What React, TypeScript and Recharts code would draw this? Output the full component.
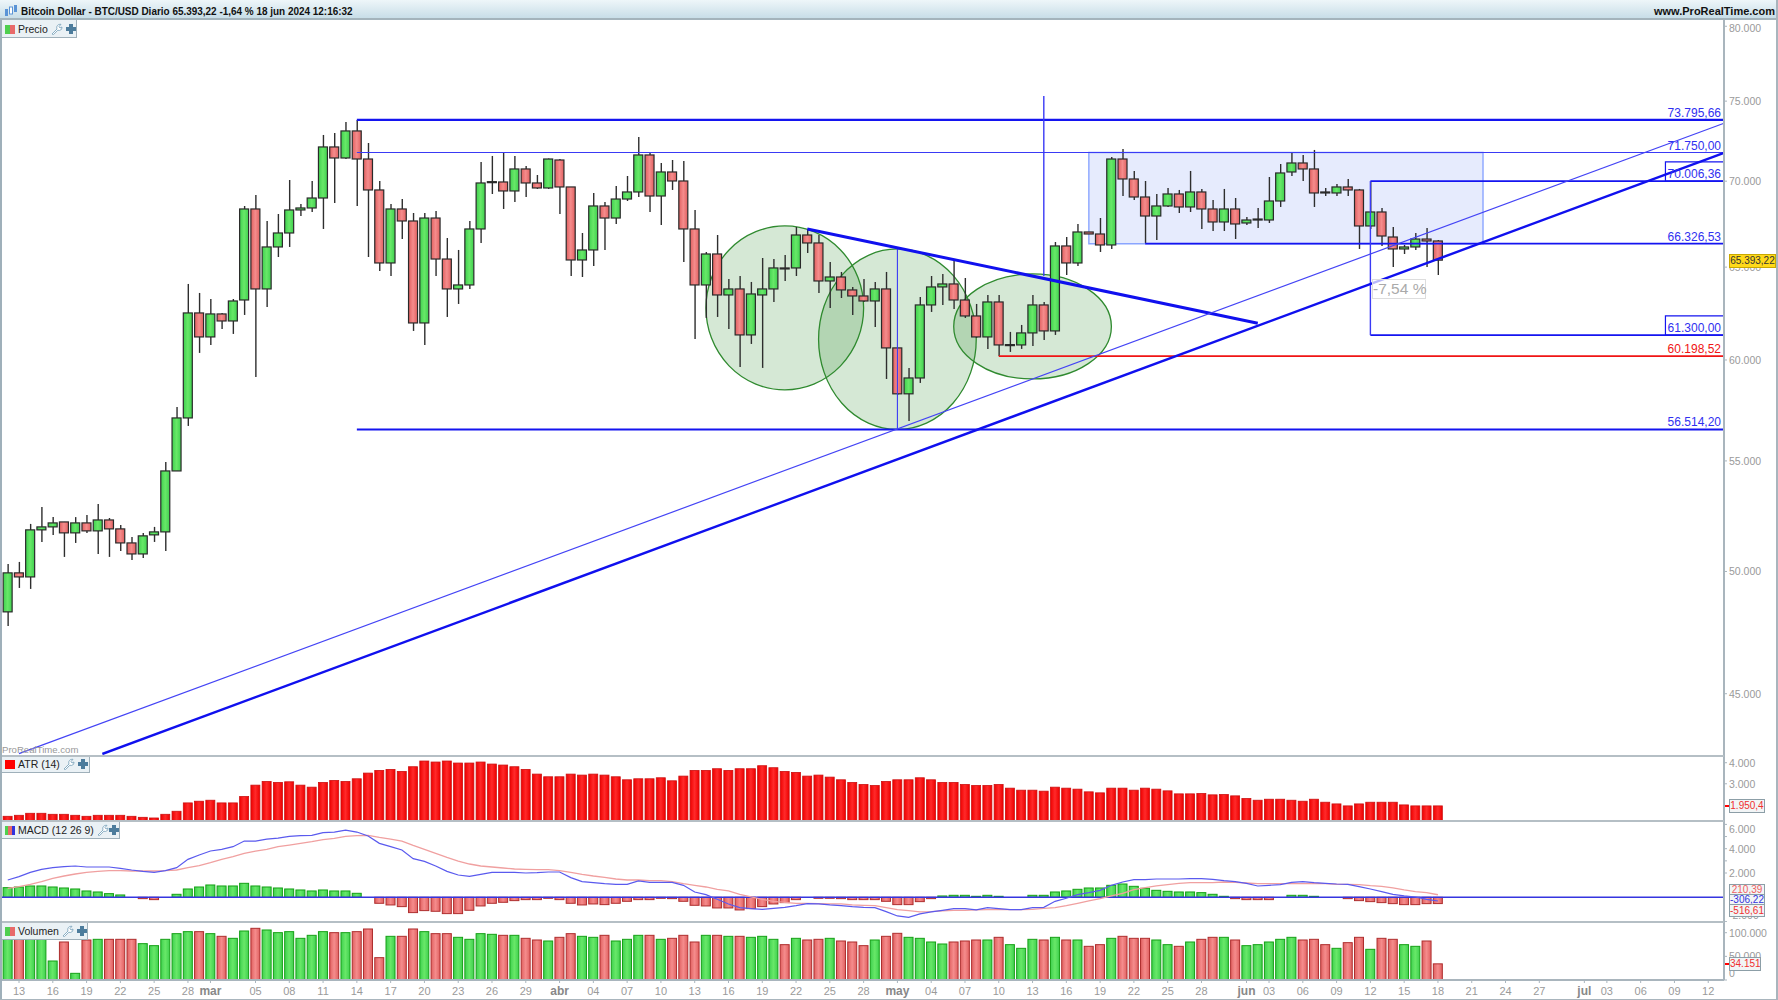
import React from "react";
import {
  ComposedChart,
  Bar,
  Line,
  XAxis,
  YAxis,
  ReferenceLine,
  ReferenceArea,
} from "recharts";

const FONT = '"Liberation Sans", Arial, sans-serif';

// BTC/USD daily candles, 12 Feb - 18 Jun 2024
const opens = [
  48289, 49940, 49766, 51826, 51959, 52182, 51692, 52138, 51781, 52271,
  51870, 51246, 50762, 51603, 51736, 54527, 57076, 62483, 61204, 62429,
  62052, 63185, 68342, 63789, 66140, 66942, 68283, 68401, 68991, 72095,
  71413, 73097, 71350, 69471, 65234, 68342, 67638, 61946, 67811, 65456,
  63789, 64009, 67174, 69951, 69951, 69411, 70740, 69891, 69591, 71289,
  69651, 65402, 65969, 68519, 67811, 68931, 69351, 71599, 69111, 70557,
  70011, 67174, 64009, 65741, 63459, 63789, 61310, 63459, 63789, 64954,
  64954, 66826, 66368, 64229, 64450, 63734, 63404, 63131, 63789, 60627,
  58275, 59077, 62915, 63899, 64064, 63185, 62321, 61204, 63077, 60783,
  60783, 61416, 62915, 61522, 66197, 65234, 67000, 66884, 66254, 71350,
  70132, 69051, 67929, 68519, 69231, 68460, 69351, 68342, 67580, 68342,
  67522, 67696, 67696, 68814, 70557, 71106, 70740, 69351, 69291, 69651,
  69471, 67348, 68165, 66710, 66026, 66140, 66594, 66482,
];
const closes = [
  49940, 49766, 51826, 51959, 52138, 51692, 52138, 51781, 52271, 51870,
  51246, 50762, 51559, 51736, 54527, 57076, 62483, 61204, 62429, 62052,
  63131, 68342, 63789, 66140, 66942, 68283, 68401, 68991, 72095, 71413,
  73097, 71350, 69471, 65234, 68342, 67638, 61946, 67811, 65456, 63789,
  64009, 67174, 69891, 69970, 69411, 70740, 69891, 69591, 71350, 69651,
  65402, 65969, 68519, 67811, 68931, 69351, 71599, 69111, 70557, 70011,
  67174, 64009, 65741, 63459, 63789, 61310, 63514, 63789, 64954, 64940,
  66826, 66368, 64229, 64450, 63734, 63404, 63131, 63789, 60627, 58275,
  59077, 62915, 63899, 64064, 63185, 62321, 61204, 63077, 60783, 60800,
  61416, 62915, 61522, 66197, 65234, 67000, 66884, 66254, 71350, 70132,
  69051, 67929, 68519, 69231, 68460, 69351, 68342, 67580, 68342, 67464,
  67696, 67752, 68814, 70496, 71106, 70740, 69291, 69291, 69651, 69471,
  67348, 68165, 66768, 66026, 66140, 66594, 66482, 65393,
];
const highs = [
  50328, 50414, 52093, 52858, 52400, 52182, 52400, 52490, 52996, 52360,
  52048, 51514, 51692, 51959, 54950, 57620, 64064, 63569, 63239, 62483,
  63239, 68519, 69171, 67638, 68047, 70071, 68637, 70011, 72844, 72970,
  73664, 73795, 72343, 70011, 68637, 68931, 68106, 68106, 68224, 66652,
  65969, 67638, 71167, 71537, 71723, 71537, 70923, 70374, 71380, 71350,
  69651, 66942, 69291, 68755, 69711, 70313, 72718, 71723, 71106, 71289,
  71228, 68283, 65855, 66826, 64338, 64506, 64174, 65513, 65456, 65684,
  67290, 67174, 66826, 65290, 64730, 63899, 64338, 64174, 64730, 60627,
  59592, 63349, 64506, 64618, 65346, 64394, 62969, 63459, 63459, 61470,
  61840, 63459, 63077, 66425, 66710, 67464, 67000, 67811, 71475, 71971,
  70618, 70011, 69231, 69591, 69471, 70618, 69531, 68873, 69531, 68991,
  67870, 68401, 70252, 71045, 71785, 71599, 71909, 69591, 69831, 70132,
  69531, 69951, 68401, 67290, 66254, 66942, 67232, 66539,
];
const lows = [
  47709, 49296, 49254, 51290, 51603, 50632, 51246, 51692, 50762, 50632,
  50894, 50500, 50588, 51290, 50894, 54527, 56684, 60367, 60783, 61628,
  61363, 62375, 59128, 62807, 65570, 66140, 67929, 68165, 67174, 68696,
  71350, 68519, 65570, 64786, 64506, 66594, 61522, 60783, 64506, 62267,
  62969, 63789, 66368, 69231, 68342, 68755, 69051, 69531, 69531, 68047,
  64506, 64450, 65066, 65969, 67464, 68814, 69051, 68165, 67406, 69471,
  65290, 61098, 62213, 62267, 61628, 59643, 60835, 59592, 63077, 64229,
  64506, 65798, 63569, 62753, 63294, 62375, 63077, 61734, 59026, 58225,
  56928, 58825, 62537, 62915, 62699, 62213, 61151, 60575, 60211, 60419,
  60575, 60731, 61043, 61310, 64562, 65066, 66884, 65855, 66026, 69111,
  68873, 66368, 66539, 68460, 68106, 68165, 67174, 67058, 67058, 66594,
  67406, 67232, 67522, 68460, 70313, 70011, 68460, 69111, 69111, 69111,
  66026, 67174, 66197, 65010, 65741, 65969, 65010, 64562,
];

const atr = [
  1456, 1504, 1599, 1599, 1551, 1551, 1504, 1456, 1504, 1504,
  1504, 1456, 1408, 1376, 1551, 1695, 2092, 2172, 2219, 2092,
  2092, 2394, 2935, 3110, 3062, 3094, 2935, 2839, 3062, 3157,
  3110, 3237, 3507, 3634, 3682, 3587, 3809, 4080, 4032, 4080,
  3984, 3984, 4032, 3936, 3889, 3809, 3682, 3459, 3332, 3332,
  3459, 3412, 3459, 3412, 3332, 3189, 3237, 3237, 3285, 3141,
  3364, 3634, 3634, 3714, 3634, 3714, 3714, 3857, 3762, 3587,
  3539, 3364, 3412, 3316, 3189, 3062, 2966, 2919, 3110, 3189,
  3189, 3285, 3189, 3062, 3062, 2966, 2919, 2919, 2966, 2792,
  2696, 2696, 2649, 2839, 2792, 2744, 2617, 2569, 2792, 2792,
  2696, 2792, 2744, 2664, 2521, 2521, 2537, 2474, 2490, 2426,
  2299, 2219, 2267, 2267, 2219, 2172, 2267, 2124, 2044, 1950,
  2044, 2124, 2124, 2124, 1997, 1950, 1950, 1950,
];

const macdLine = [
  1425, 1699, 2055, 2302, 2439, 2521, 2576, 2493, 2493, 2493,
  2384, 2247, 2137, 2055, 2192, 2439, 3124, 3480, 3809, 3946,
  4165, 4631, 4631, 4795, 4877, 5014, 5069, 5096, 5316, 5370,
  5535, 5370, 5042, 4439, 4165, 3891, 3178, 2959, 2576, 2137,
  1836, 1726, 1891, 2055, 2055, 2055, 2000, 2028, 2082, 2082,
  1617, 1288, 1206, 1123, 1069, 1069, 1343, 1233, 1233, 1233,
  986, 438, 219, -164, -548, -849, -932, -986, -904, -822,
  -685, -521, -548, -630, -685, -767, -822, -849, -1178, -1534,
  -1644, -1370, -1206, -1069, -932, -932, -1041, -849, -932, -1014,
  -1014, -849, -822, -329, -82, 219, 384, 575, 986, 1260,
  1452, 1452, 1507, 1507, 1507, 1534, 1534, 1480, 1370, 1288,
  1151, 932, 986, 1041, 1233, 1288, 1206, 1151, 1096, 1069,
  877, 685, 466, 247, 110, 27, -164, -306,
];
const macdSignal = [
  740, 877, 1069, 1288, 1562, 1754, 1918, 2055, 2137, 2192,
  2192, 2165, 2165, 2165, 2192, 2247, 2439, 2603, 2850, 3124,
  3343, 3617, 3809, 3946, 4165, 4302, 4439, 4576, 4740, 4850,
  5014, 5069, 5096, 4932, 4795, 4631, 4274, 3946, 3617, 3288,
  2987, 2740, 2576, 2493, 2411, 2329, 2302, 2274, 2274, 2192,
  2055, 1891, 1754, 1644, 1507, 1425, 1425, 1370, 1370, 1288,
  1123, 986, 849, 658, 521, 247, 27, -164, -329, -411,
  -493, -493, -521, -548, -548, -630, -658, -685, -849, -1014,
  -1096, -1206, -1178, -1123, -1069, -1069, -1041, -1014, -986, -1014,
  -1014, -986, -904, -849, -685, -493, -301, -110, 110, 329,
  630, 795, 932, 1041, 1151, 1206, 1206, 1206, 1260, 1233,
  1178, 1123, 1123, 1123, 1123, 1123, 1151, 1123, 1069, 1069,
  1041, 959, 904, 767, 603, 466, 384, 210,
];
const macdHist = [
  795, 849, 932, 932, 849, 767, 685, 521, 438, 301,
  192, 0, -110, -192, 0, 247, 685, 849, 1014, 932,
  932, 1151, 932, 849, 767, 685, 603, 521, 603, 521,
  521, 329, 0, -493, -630, -767, -1260, -1096, -1151, -1343,
  -1343, -1069, -712, -493, -411, -274, -192, -192, -82, -192,
  -493, -630, -548, -603, -493, -329, -192, -192, -82, -110,
  -329, -658, -712, -877, -877, -1041, -932, -767, -548, -438,
  -192, 0, -82, -82, -110, -192, -192, -192, -329, -603,
  -603, -356, -110, 110, 164, 164, 82, 164, 82, 0,
  0, 164, 164, 438, 521, 658, 767, 767, 986, 1096,
  904, 740, 575, 493, 438, 438, 384, 247, 82, -110,
  -192, -192, -192, 0, 164, 164, 82, 0, 0, -110,
  -274, -356, -438, -521, -603, -603, -521, -517,
];

const volume = [
  96000, 98000, 95000, 97000, 40174, 80347, 14096, 84576, 85986, 85986,
  85986, 85986, 76823, 72594, 85986, 97967, 102196, 102196, 97967, 92329,
  88100, 103606, 109244, 105720, 100082, 102196, 88100, 94443, 102196, 100082,
  100082, 102196, 107834, 47222, 92329, 92329, 107834, 102196, 97967, 97967,
  90214, 85986, 97967, 96558, 94443, 94443, 88100, 84576, 82462, 90214,
  97967, 92329, 90214, 94443, 82462, 85986, 94443, 94443, 85986, 88100,
  94443, 80347, 94443, 94443, 92329, 92329, 90214, 92329, 85986, 74709,
  88100, 84576, 85986, 88100, 82462, 80347, 72594, 84576, 92329, 98672,
  90214, 88100, 80347, 76118, 80347, 82462, 84576, 84576, 90214, 74709,
  66956, 85986, 84576, 90214, 84576, 84576, 71185, 74709, 88100, 92329,
  88100, 88100, 84576, 74709, 71185, 80347, 85986, 90214, 90214, 84576,
  72594, 74709, 80347, 85986, 90214, 84576, 85986, 74709, 66956, 78938,
  90214, 64842, 88100, 85986, 74709, 71185, 82462, 34151,
];

const dateTickIdx = [
  1, 4, 7, 10, 13, 16, 18, 22, 25, 28, 31, 34, 37, 40, 43, 46, 49, 52, 55, 58,
  61, 64, 67, 70, 73, 76, 79, 82, 85, 88, 91, 94, 97, 100, 103, 106, 110, 112,
  115, 118, 121, 124, 127, 130, 133, 136, 140, 142, 145, 148, 151,
];
const dateTickLabels = [
  "13", "16", "19", "22", "25", "28", "mar", "05", "08", "11", "14", "17", "20", "23", "26", "29", "abr", "04", "07", "10",
  "13", "16", "19", "22", "25", "28", "may", "04", "07", "10", "13", "16", "19", "22", "25", "28", "jun", "03",
  "06", "09", "12", "15", "18", "21", "24", "27", "jul", "03", "06", "09", "12",
];
const monthLabels = ["mar", "abr", "may", "jun", "jul"];

const priceTicks = [80000, 75000, 70000, 65000, 60000, 55000, 50000, 45000];
const atrTicks = [4000, 3000];
const macdTicks = [6000, 5000, 4000, 3000, 2000, -2000];
const macdLabelled = [6000, 4000, 2000, -2000];
const volumeTicks = [100000, 50000, 0];

// drawn objects on the price pane: [x index, price]
const ellipses = [
  { x1: 62, x2: 76, y1: 58475, y2: 67348 },
  { x1: 72, x2: 86, y1: 56514, y2: 66026 },
  { x1: 84, x2: 98, y1: 59026, y2: 64618 },
];
const levels = [
  { from: 31, price: 73795.66, label: "73.795,66", width: 2.4, color: "#1414f0" },
  { from: 31, price: 71750, label: "71.750,00", width: 1.2, color: "#3a3af5" },
  { from: 121, price: 70006.36, label: "70.006,36", width: 1.8, color: "#1414f0" },
  { from: 101, price: 66326.53, label: "66.326,53", width: 1.8, color: "#1414f0" },
  { from: 121, price: 61300, label: "61.300,00", width: 1.8, color: "#1414f0" },
  { from: 88, price: 60198.52, label: "60.198,52", width: 1.8, color: "#f01414" },
  { from: 31, price: 56514.2, label: "56.514,20", width: 2, color: "#1414f0" },
];
const priceBoxes = [
  { y1: 70006.36, y2: 71170 },
  { y1: 61300, y2: 62321 },
];

const X_DOMAIN: [number, number] = [-0.6, 152.4];
const PRICE_DOMAIN: [number, number] = [42684, 80433];
const LAST_LEVEL_X = 152.4;

const candles = opens.map((o, i) => ({
  i,
  wick: [lows[i], highs[i]],
  body: [Math.min(o, closes[i]), Math.max(o, closes[i])],
  up: closes[i] >= o,
}));

const lowerRows = opens.map((o, i) => ({
  i,
  atr: atr[i],
  macd: macdLine[i],
  signal: macdSignal[i],
  hist: macdHist[i],
  volume: volume[i],
  up: closes[i] >= o,
}));

const gradients = (
  <defs>
    <linearGradient id="gGreen" x1="0" y1="0" x2="1" y2="0">
      <stop offset="0%" stopColor="#3fd04f" />
      <stop offset="50%" stopColor="#68e868" />
      <stop offset="100%" stopColor="#3fd04f" />
    </linearGradient>
    <linearGradient id="gRed" x1="0" y1="0" x2="1" y2="0">
      <stop offset="0%" stopColor="#e06060" />
      <stop offset="50%" stopColor="#f58c8c" />
      <stop offset="100%" stopColor="#e06060" />
    </linearGradient>
    <linearGradient id="gAtr" x1="0" y1="0" x2="1" y2="0">
      <stop offset="0%" stopColor="#ee0000" />
      <stop offset="50%" stopColor="#ff2a2a" />
      <stop offset="100%" stopColor="#ee0000" />
    </linearGradient>
  </defs>
);

function fmt(v: number) {
  return String(v).replace(/\B(?=(\d{3})+(?!\d))/g, ".");
}

function WickShape(p: any) {
  const cx = p.x + p.width / 2;
  return <line x1={cx} x2={cx} y1={p.y} y2={p.y + p.height} stroke="#2e2e2e" strokeWidth={1.4} />;
}

function BodyShape(p: any) {
  const up = p.payload?.up;
  return (
    <rect
      x={p.x}
      y={p.y}
      width={p.width}
      height={Math.max(p.height, 1)}
      fill={up ? "url(#gGreen)" : "url(#gRed)"}
      stroke="#2a2a2a"
      strokeWidth={1.2}
    />
  );
}

function AtrShape(p: any) {
  return <rect x={p.x} y={p.y} width={p.width} height={p.height} fill="url(#gAtr)" stroke="#cc1010" strokeWidth={0.8} />;
}

function HistShape(p: any) {
  const top = Math.min(p.y, p.y + p.height);
  const h = Math.abs(p.height);
  if (h < 0.5) return <g />;
  const up = p.payload?.hist >= 0;
  return (
    <rect
      x={p.x}
      y={top}
      width={p.width}
      height={h}
      fill={up ? "url(#gGreen)" : "url(#gRed)"}
      stroke={up ? "#16a016" : "#ae2e2e"}
      strokeWidth={1}
    />
  );
}

function VolumeShape(p: any) {
  const up = p.payload?.up;
  return (
    <rect
      x={p.x}
      y={p.y}
      width={p.width}
      height={p.height}
      fill={up ? "url(#gGreen)" : "url(#gRed)"}
      stroke={up ? "#16a016" : "#ae2e2e"}
      strokeWidth={1}
    />
  );
}

function EllipseShape(p: any) {
  return (
    <ellipse
      cx={p.x + p.width / 2}
      cy={p.y + p.height / 2}
      rx={p.width / 2}
      ry={p.height / 2}
      fill="#2e8b2e"
      fillOpacity={0.2}
      stroke="#2f8a2f"
      strokeWidth={1.3}
    />
  );
}

const makeValueTick = (labelled: number[] | null, minY: number, maxY: number) =>
  function ValueTick({ x, y, payload }: any) {
    const show = !labelled || labelled.includes(payload.value);
    if (!show) return <g />;
    return (
      <text x={x} y={Math.min(Math.max(y, minY), maxY)} dy={4} fontSize={10.5} fill="#9a9a9a" fontFamily={FONT} textAnchor="start">
        {fmt(payload.value)}
      </text>
    );
  };

function DateTick({ x, y, payload }: any) {
  const label = dateTickLabels[dateTickIdx.indexOf(payload.value)];
  const month = monthLabels.includes(label);
  return (
    <text x={x} y={y} dy={10} fontSize={month ? 12 : 11} fontWeight={month ? "bold" : "normal"} fill={month ? "#888" : "#9a9a9a"} fontFamily={FONT} textAnchor="middle">
      {label}
    </text>
  );
}

const AXIS = "#a9b5bd";
const yAxisProps = {
  orientation: "right" as const,
  width: 54,
  allowDataOverflow: true,
  interval: 0 as const,
  axisLine: { stroke: AXIS, strokeWidth: 2 },
  tickLine: { stroke: AXIS },
  tickSize: 3,
  tickMargin: 2,
};

function Wrench() {
  return (
    <svg width={12} height={12} viewBox="0 0 12 12" style={{ flex: "none" }}>
      <path d="M1 11 L6 6 C5 3 7 1 10 1.3 L8 3.5 L9 5 L11 4 C11 7 9 8 6.8 7.2 L2.5 11.6 Z" fill="#fff" stroke="#7fa6bd" strokeWidth={0.9} />
    </svg>
  );
}

function Plus() {
  return (
    <svg width={10} height={10} viewBox="0 0 10 10" style={{ flex: "none" }}>
      <path d="M3 0 H7 V3 H10 V7 H7 V10 H3 V7 H0 V3 H3 Z" fill="#4d7c9c" />
    </svg>
  );
}

function PaneTag({ top, width, colors, text }: { top: number; width: number; colors: string[]; text: string }) {
  return (
    <div
      style={{
        position: "absolute",
        left: 0,
        top,
        width,
        height: 18,
        paddingTop: 1,
        boxSizing: "border-box",
        background: "#eaf1f5",
        borderRight: "1px solid #9fb0ba",
        borderBottom: "1px solid #9fb0ba",
        display: "flex",
        alignItems: "center",
        paddingLeft: 5,
        fontSize: 10.5,
        color: "#222",
        whiteSpace: "nowrap",
      }}
    >
      <span style={{ display: "flex", width: 10, height: 9, marginRight: 3, flex: "none" }}>
        {colors.map((c) => (
          <span key={c} style={{ flex: 1, background: c }} />
        ))}
      </span>
      <span style={{ marginRight: 3 }}>{text}</span>
      <Wrench />
      <span style={{ width: 3 }} />
      <Plus />
    </div>
  );
}

function Badge({ top, width, height, text, color, bg, border }: any) {
  return (
    <div
      style={{
        position: "absolute",
        left: 1729,
        top,
        width,
        height,
        boxSizing: "border-box",
        background: bg || "#f2f5f6",
        border: `1px solid ${border || "#8c9ea7"}`,
        color,
        fontSize: 10,
        lineHeight: `${height - 2}px`,
        textAlign: "center",
        whiteSpace: "nowrap",
        overflow: "hidden",
      }}
    >
      {text}
    </div>
  );
}

function Overlays() {
  return (
    <>
      <div style={{ position: "absolute", left: 0, top: 0, width: 1778, height: 20, boxSizing: "border-box", background: "linear-gradient(#eef6f9,#c8dee8)", borderBottom: "2px solid #a4b4bc" }} />
      <svg width={14} height={14} style={{ position: "absolute", left: 4, top: 4 }}>
        <rect x={1} y={5} width={3} height={7} fill="#5a94d6" />
        <rect x={5.5} y={3} width={3} height={7} fill="#fff" stroke="#5a94d6" />
        <rect x={10} y={1} width={3} height={7} fill="#5a94d6" />
      </svg>
      <div style={{ position: "absolute", left: 21, top: 5, fontSize: 11, fontWeight: "bold", color: "#111", whiteSpace: "nowrap", transform: "scaleX(0.904)", transformOrigin: "left center" }}>
        Bitcoin Dollar - BTC/USD Diario 65.393,22 -1,64 % 18 jun 2024 12:16:32
      </div>
      <div style={{ position: "absolute", right: 3, top: 5, fontSize: 11, fontWeight: "bold", color: "#111", whiteSpace: "nowrap" }}>
        www.ProRealTime.com
      </div>
      <PaneTag top={20} width={77} colors={["#4fcf4f", "#e86a6a"]} text="Precio" />
      <PaneTag top={755} width={90} colors={["#ff0000"]} text="ATR (14)" />
      <PaneTag top={821} width={120} colors={["#4fcf4f", "#e86a6a", "#3333dd"]} text="MACD (12 26 9)" />
      <PaneTag top={922} width={88} colors={["#4fcf4f", "#e86a6a"]} text="Volumen" />
      <div style={{ position: "absolute", left: 2, top: 744, fontSize: 9.6, color: "#999", whiteSpace: "nowrap" }}>ProRealTime.com</div>

      <div style={{ position: "absolute", left: 1372, top: 279, width: 54, height: 20, boxSizing: "border-box", border: "1px solid #ddd", background: "rgba(255,255,255,0.7)", color: "#aaa", fontSize: 15.5, lineHeight: "18px", textAlign: "center", whiteSpace: "nowrap" }}>
        -7,54 %
      </div>

      <Badge top={254} width={47} height={14} text="65.393,22" color="#333" bg="#ffd91a" border="#c9a800" />
      <div style={{ position: "absolute", left: 1725, top: 805, width: 5, height: 2, background: "#f00" }} />
      <Badge top={799} width={36} height={14} text="1.950,4" color="#f03030" />
      <Badge top={884} width={36} height={11} text="210,39" color="#f06060" />
      <Badge top={894} width={36} height={11} text="-306,22" color="#3333dd" />
      <Badge top={904} width={36} height={13} text="-516,61" color="#f03030" />
      <div style={{ position: "absolute", left: 1725, top: 963, width: 5, height: 2, background: "#f00" }} />
      <Badge top={957} width={32} height={14} text="34.151" color="#f03030" />

      <div style={{ position: "absolute", left: 0, top: 755, width: 1724, height: 2, background: "#b5bfc5" }} />
      <div style={{ position: "absolute", left: 0, top: 820, width: 1724, height: 2, background: "#b5bfc5" }} />
      <div style={{ position: "absolute", left: 0, top: 921, width: 1724, height: 2, background: "#b5bfc5" }} />
      <div style={{ position: "absolute", left: 0, top: 20, width: 1.5, height: 980, background: "#9fb0ba" }} />
      <div style={{ position: "absolute", left: 1776, top: 0, width: 2, height: 1000, background: "#a9b5bd" }} />
      <div style={{ position: "absolute", left: 0, top: 998.5, width: 1778, height: 1.5, background: "#a9b5bd" }} />
    </>
  );
}

export default function App() {
  return (
    <div style={{ position: "absolute", left: 0, top: 0, width: 1778, height: 1000, background: "#fff", overflow: "hidden", fontFamily: FONT }}>
      {/* price pane */}
      <div style={{ position: "absolute", left: 0, top: 0 }}>
        <ComposedChart width={1778} height={755} data={candles} margin={{ top: 20, right: 0, bottom: 0, left: 1 }}>
          {gradients}
          <XAxis xAxisId="w" hide type="number" dataKey="i" domain={X_DOMAIN} allowDataOverflow />
          <XAxis xAxisId="b" hide type="number" dataKey="i" domain={X_DOMAIN} allowDataOverflow />
          <YAxis {...yAxisProps} scale="log" domain={PRICE_DOMAIN} ticks={priceTicks} tick={makeValueTick(null, 28, 750)} />

          <ReferenceArea xAxisId="b" x1={96} x2={131} y1={66326.53} y2={71750} fill="#3a66ee" fillOpacity={0.13} stroke="#8aa5ff" strokeWidth={1.4} ifOverflow="visible" />
          {ellipses.map((e) => (
            <ReferenceArea key={e.x1} xAxisId="b" x1={e.x1} x2={e.x2} y1={e.y1} y2={e.y2} shape={EllipseShape} ifOverflow="visible" />
          ))}

          <Bar xAxisId="w" dataKey="wick" barSize={2} shape={WickShape} isAnimationActive={false} />
          <Bar xAxisId="b" dataKey="body" barSize={9} shape={BodyShape} isAnimationActive={false} />

          {priceBoxes.map((b) => (
            <ReferenceArea key={b.y1} xAxisId="b" x1={147.2} x2={LAST_LEVEL_X} y1={b.y1} y2={b.y2} fill="none" stroke="#1414f0" strokeWidth={1.2} ifOverflow="visible" />
          ))}
          {levels.map((l) => (
            <ReferenceLine
              key={l.label}
              xAxisId="b"
              segment={[{ x: l.from, y: l.price }, { x: LAST_LEVEL_X, y: l.price }]}
              stroke={l.color}
              strokeWidth={l.width}
              ifOverflow="visible"
              label={{ value: l.label, position: "insideBottomRight", offset: 3, fill: l.color === "#f01414" ? "#f01414" : "#3030f0", fontSize: 12, fontFamily: FONT }}
            />
          ))}
          {/* vertical markers */}
          <ReferenceLine xAxisId="b" segment={[{ x: 92, y: 64500 }, { x: 92, y: 75335 }]} stroke="#3a3af5" strokeWidth={1.4} ifOverflow="visible" />
          <ReferenceLine xAxisId="b" segment={[{ x: 79, y: 56514 }, { x: 79, y: 66026 }]} stroke="#3a3af5" strokeWidth={1.1} ifOverflow="visible" />
          <ReferenceLine xAxisId="b" segment={[{ x: 121, y: 61300 }, { x: 121, y: 70006.36 }]} stroke="#3a3af5" strokeWidth={1.4} ifOverflow="visible" />
          {/* trend lines */}
          <ReferenceLine xAxisId="b" segment={[{ x: 71, y: 67174 }, { x: 111, y: 61930 }]} stroke="#1010ee" strokeWidth={3} ifOverflow="visible" />
          <ReferenceLine xAxisId="b" segment={[{ x: 1, y: 42733 }, { x: LAST_LEVEL_X, y: 73582 }]} stroke="#4444f5" strokeWidth={1.2} ifOverflow="visible" />
          <ReferenceLine xAxisId="b" segment={[{ x: 8.4, y: 42721 }, { x: LAST_LEVEL_X, y: 71723 }]} stroke="#1010ee" strokeWidth={2.4} ifOverflow="visible" />
        </ComposedChart>
      </div>

      {/* ATR */}
      <div style={{ position: "absolute", left: 0, top: 755 }}>
        <ComposedChart width={1778} height={66} data={lowerRows} margin={{ top: 0, right: 0, bottom: 0, left: 1 }}>
          {gradients}
          <XAxis hide type="number" dataKey="i" domain={X_DOMAIN} allowDataOverflow />
          <YAxis {...yAxisProps} domain={[1233, 4366]} ticks={atrTicks} tick={makeValueTick(null, 0, 66)} />
          <Bar dataKey="atr" barSize={9} shape={AtrShape} isAnimationActive={false} />
        </ComposedChart>
      </div>

      {/* MACD */}
      <div style={{ position: "absolute", left: 0, top: 821 }}>
        <ComposedChart width={1778} height={101} data={lowerRows} margin={{ top: 0, right: 0, bottom: 0, left: 1 }}>
          {gradients}
          <XAxis hide type="number" dataKey="i" domain={X_DOMAIN} allowDataOverflow />
          <YAxis {...yAxisProps} domain={[-2033, 6280]} ticks={macdTicks} tick={makeValueTick(macdLabelled, 8, 94)} />
          <Bar dataKey="hist" barSize={9} shape={HistShape} isAnimationActive={false} />
          <ReferenceLine y={0} stroke="#3535e0" strokeWidth={1.4} />
          <Line dataKey="signal" type="linear" stroke="#f0a0a0" strokeWidth={1.3} dot={false} isAnimationActive={false} />
          <Line dataKey="macd" type="linear" stroke="#5a5aee" strokeWidth={1.2} dot={false} isAnimationActive={false} />
        </ComposedChart>
      </div>

      {/* volume + date axis */}
      <div style={{ position: "absolute", left: 0, top: 922 }}>
        <ComposedChart width={1778} height={78} data={lowerRows} margin={{ top: 0, right: 0, bottom: 0, left: 1 }}>
          {gradients}
          <XAxis
            type="number"
            dataKey="i"
            domain={X_DOMAIN}
            allowDataOverflow
            ticks={dateTickIdx}
            interval={0}
            height={20}
            tick={DateTick}
            tickSize={3}
            axisLine={{ stroke: AXIS, strokeWidth: 2 }}
            tickLine={{ stroke: AXIS }}
          />
          <YAxis {...yAxisProps} domain={[0, 122600]} ticks={volumeTicks} tick={makeValueTick(null, 0, 51)} />
          <Bar dataKey="volume" barSize={9} shape={VolumeShape} isAnimationActive={false} />
        </ComposedChart>
      </div>

      <Overlays />
    </div>
  );
}
